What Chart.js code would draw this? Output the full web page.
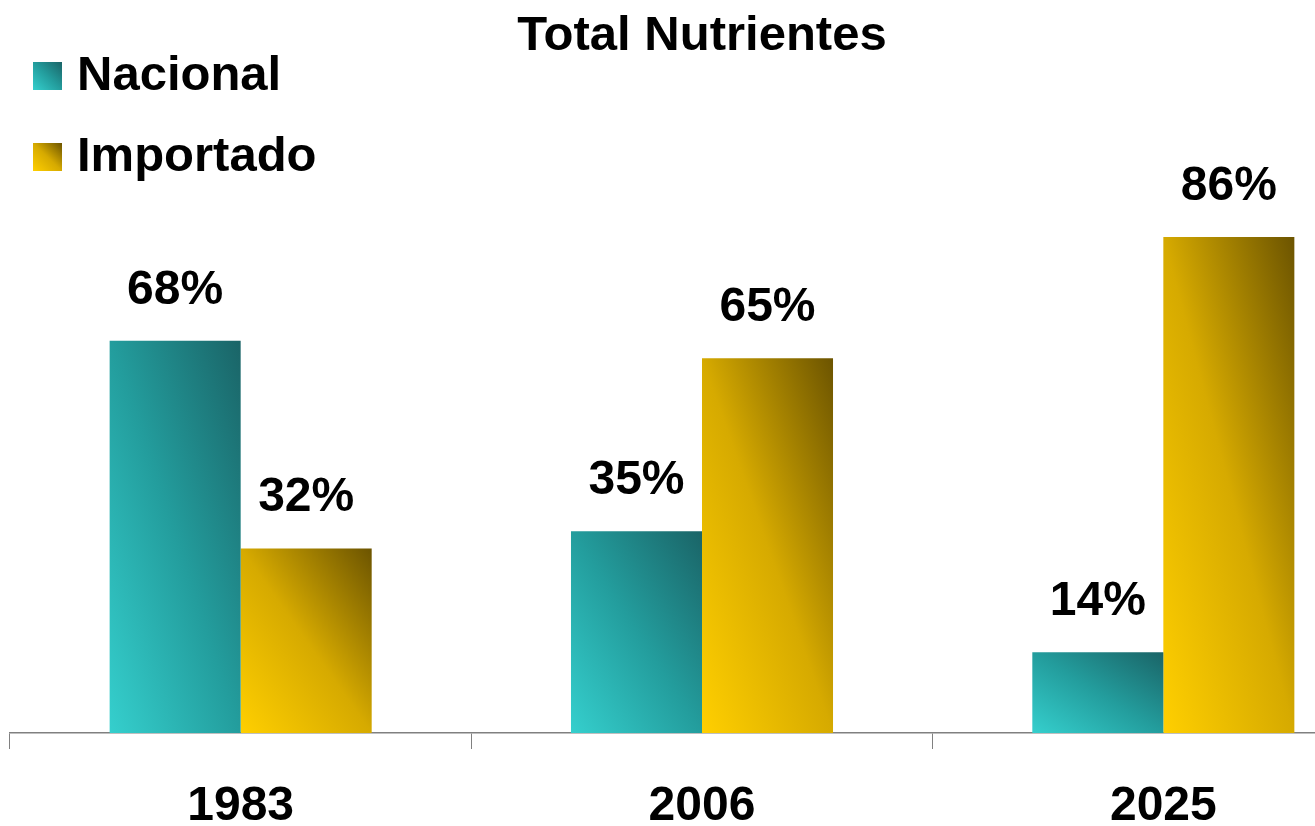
<!DOCTYPE html>
<html>
<head>
<meta charset="utf-8">
<script src="https://cdn.jsdelivr.net/npm/chart.js@4"></script>
<style>
  html, body { margin: 0; padding: 0; background: #fff; overflow: hidden; }
  #wrap { width: 1400px; height: 826px; }
</style>
</head>
<body>
<div id="wrap"><canvas id="nutChart"></canvas></div>
<script>
// data
const categories = ['1983', '2006', '2025'];
const seriesNames = ['Nacional', 'Importado'];
const nacional = [68, 35, 14];
const importado = [32, 65, 86];

// gradient stops, light (bottom-left) to dark (top-right)
const tealStops = ['#35cfcd', '#239d9d', '#1a6467'];
const goldStops = ['#ffcf00', '#d6aa00', '#6c5400'];

const FONT = 'Liberation Sans, Arial, sans-serif';

function diagGradient(c, left, top, right, bottom, stops) {
  const w = right - left, h = bottom - top;
  const k = 2 * w * h / (w * w + h * h);
  const g = c.createLinearGradient(left, bottom, left + h * k, bottom - w * k);
  g.addColorStop(0, stops[0]);
  g.addColorStop(0.5, stops[1]);
  g.addColorStop(1, stops[2]);
  return g;
}

function barFill(stops) {
  return function (context) {
    const meta = context.chart.getDatasetMeta(context.datasetIndex);
    const el = meta.data[context.dataIndex];
    if (!el || el.x == null || isNaN(el.y)) return stops[1];
    const half = el.width / 2;
    return diagGradient(context.chart.ctx, el.x - half, el.y, el.x + half, el.base, stops);
  };
}

// value labels above each bar
const valueLabels = {
  id: 'valueLabels',
  afterDatasetsDraw(chart) {
    const c = chart.ctx;
    c.save();
    c.font = 'bold 48px ' + FONT;
    c.fillStyle = '#000';
    c.textAlign = 'center';
    c.textBaseline = 'alphabetic';
    chart.data.datasets.forEach((ds, i) => {
      chart.getDatasetMeta(i).data.forEach((el, j) => {
        c.fillText(ds.data[j] + '%', el.x, el.y - 37);
      });
    });
    c.restore();
  }
};

// stacked legend in the top-left corner
const cornerLegend = {
  id: 'cornerLegend',
  afterDraw(chart) {
    const c = chart.ctx;
    const stopsList = [tealStops, goldStops];
    c.save();
    c.font = 'bold 49px ' + FONT;
    c.textAlign = 'left';
    c.textBaseline = 'alphabetic';
    chart.data.datasets.forEach((ds, i) => {
      const base = 90 + i * 81;
      c.fillStyle = diagGradient(c, 33, base - 28, 62, base, stopsList[i]);
      c.fillRect(33, base - 28, 29, 28);
      c.fillStyle = '#000';
      c.fillText(ds.label, 77, base);
    });
    c.restore();
  }
};

const chart = new Chart(document.getElementById('nutChart'), {
  type: 'bar',
  data: {
    labels: categories,
    datasets: [
      { label: seriesNames[0], data: nacional, backgroundColor: barFill(tealStops) },
      { label: seriesNames[1], data: importado, backgroundColor: barFill(goldStops) }
    ]
  },
  options: {
    responsive: true,
    maintainAspectRatio: false,
    animation: false,
    layout: { padding: { left: 10, right: 6, top: 0, bottom: -39 } },
    datasets: {
      bar: { categoryPercentage: 0.568, barPercentage: 1.0, borderWidth: 0 }
    },
    scales: {
      x: {
        offset: true,
        grid: {
          offset: true,
          drawOnChartArea: false,
          drawTicks: true,
          tickLength: 16,
          color: '#808080',
          lineWidth: 1
        },
        border: { display: true, color: '#808080', width: 1.5 },
        ticks: {
          color: '#000',
          padding: 34,
          font: { family: FONT, size: 48, weight: 'bold', lineHeight: 1.0 }
        }
      },
      y: {
        display: false,
        min: 0,
        max: 115
      }
    },
    plugins: {
      legend: { display: false },
      tooltip: { enabled: false },
      title: {
        display: true,
        text: 'Total Nutrientes',
        color: '#000',
        padding: { top: 7, bottom: 4 },
        font: { family: FONT, size: 49, weight: 'bold', lineHeight: 1.2 }
      }
    }
  },
  plugins: [valueLabels, cornerLegend]
});
chart.update('none');
</script>
</body>
</html>
